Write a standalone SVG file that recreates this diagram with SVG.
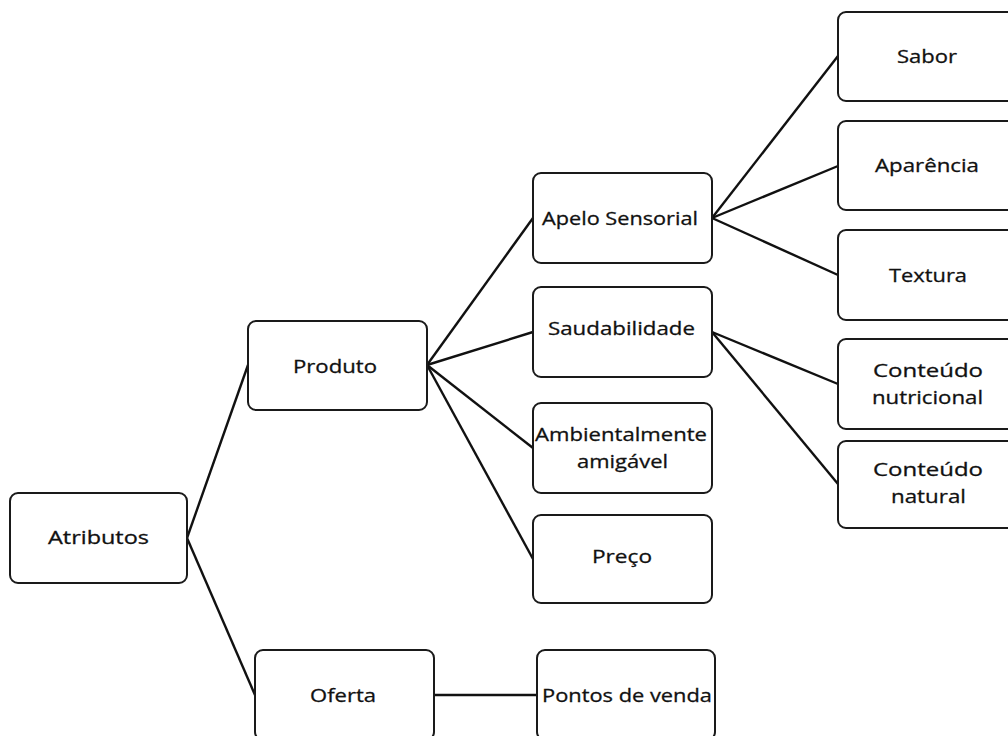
<svg xmlns="http://www.w3.org/2000/svg" width="1008" height="736" viewBox="0 0 1008 736">
<style>
.box{fill:#fff;stroke:#1a1a1a;stroke-width:2}
.t{font-family:"Open Sans","Liberation Sans",sans-serif;font-size:19px;fill:#111;stroke:#111;stroke-width:0.3;text-anchor:middle}
.c{stroke:#111;stroke-width:2.4;fill:none}
</style>
<rect width="1008" height="736" fill="#fff"/>
<g id="connectors">
<line class="c" x1="187" y1="538" x2="248" y2="365"/>
<line class="c" x1="187" y1="538" x2="255" y2="695"/>
<line class="c" x1="427" y1="365" x2="533" y2="218"/>
<line class="c" x1="427" y1="365" x2="533" y2="332"/>
<line class="c" x1="427" y1="365" x2="533" y2="448"/>
<line class="c" x1="427" y1="365" x2="533" y2="559"/>
<line class="c" x1="712" y1="218" x2="838" y2="56"/>
<line class="c" x1="712" y1="218" x2="838" y2="166"/>
<line class="c" x1="712" y1="218" x2="838" y2="275"/>
<line class="c" x1="712" y1="332" x2="838" y2="384"/>
<line class="c" x1="712" y1="332" x2="838" y2="484"/>
<line class="c" x1="434" y1="695" x2="537" y2="695"/>
</g>
<g id="atributos"><rect class="box" x="10" y="493" width="177" height="90" rx="8"/><text class="t" x="98.5" y="544" textLength="101" lengthAdjust="spacingAndGlyphs">Atributos</text></g>
<g id="produto"><rect class="box" x="248" y="321" width="179" height="89" rx="8"/><text class="t" x="335" y="373" textLength="84" lengthAdjust="spacingAndGlyphs">Produto</text></g>
<g id="oferta"><rect class="box" x="255" y="650" width="179" height="90" rx="8"/><text class="t" x="343" y="702" textLength="66" lengthAdjust="spacingAndGlyphs">Oferta</text></g>
<g id="apelo"><rect class="box" x="533" y="173" width="179" height="90" rx="8"/><text class="t" x="620" y="225" textLength="156" lengthAdjust="spacingAndGlyphs">Apelo Sensorial</text></g>
<g id="saudabilidade"><rect class="box" x="533" y="287" width="179" height="90" rx="8"/><text class="t" x="621.5" y="335" textLength="147" lengthAdjust="spacingAndGlyphs">Saudabilidade</text></g>
<g id="ambientalmente"><rect class="box" x="533" y="403" width="179" height="90" rx="8"/><text class="t" x="621" y="441" textLength="172" lengthAdjust="spacingAndGlyphs">Ambientalmente</text><text class="t" x="622.5" y="468" textLength="91" lengthAdjust="spacingAndGlyphs">amigável</text></g>
<g id="preco"><rect class="box" x="533" y="515" width="179" height="88" rx="8"/><text class="t" x="622" y="563" textLength="60" lengthAdjust="spacingAndGlyphs">Preço</text></g>
<g id="pontos"><rect class="box" x="537" y="650" width="178" height="90" rx="8"/><text class="t" x="627" y="702" textLength="170" lengthAdjust="spacingAndGlyphs">Pontos de venda</text></g>
<g id="sabor"><rect class="box" x="838" y="12" width="180" height="89" rx="8"/><text class="t" x="927" y="63" textLength="60" lengthAdjust="spacingAndGlyphs">Sabor</text></g>
<g id="aparencia"><rect class="box" x="838" y="121" width="180" height="89" rx="8"/><text class="t" x="927" y="172" textLength="104" lengthAdjust="spacingAndGlyphs">Aparência</text></g>
<g id="textura"><rect class="box" x="838" y="230" width="180" height="90" rx="8"/><text class="t" x="928" y="282" textLength="78" lengthAdjust="spacingAndGlyphs">Textura</text></g>
<g id="nutricional"><rect class="box" x="838" y="339" width="180" height="90" rx="8"/><text class="t" x="928" y="377" textLength="110" lengthAdjust="spacingAndGlyphs">Conteúdo</text><text class="t" x="927.5" y="404" textLength="111" lengthAdjust="spacingAndGlyphs">nutricional</text></g>
<g id="natural"><rect class="box" x="838" y="441" width="180" height="87" rx="8"/><text class="t" x="928" y="476" textLength="110" lengthAdjust="spacingAndGlyphs">Conteúdo</text><text class="t" x="928.5" y="503" textLength="75" lengthAdjust="spacingAndGlyphs">natural</text></g>
</svg>
